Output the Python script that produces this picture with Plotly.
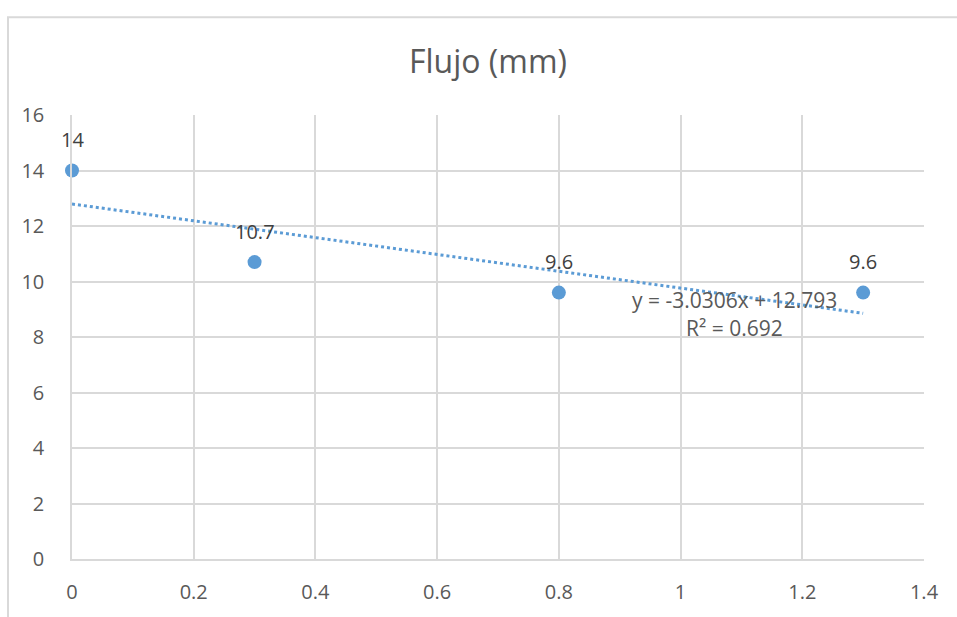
import numpy as np
import plotly.graph_objects as go

# Flow measurements
x_vals = [0, 0.3, 0.8, 1.3]
y_vals = [14, 10.7, 9.6, 9.6]
point_labels = ["14", "10.7", "9.6", "9.6"]

x_ticks = [0, 0.2, 0.4, 0.6, 0.8, 1, 1.2, 1.4]
y_ticks = [0, 2, 4, 6, 8, 10, 12, 14, 16]

BLUE = "#5B9BD5"
GRID = "#d9d9d9"
FONT = "Open Sans"

W, H = 957, 617
ML, MR, MT, MB = 72, 33, 115, 52

# Linear trend (least squares)
slope, intercept = np.polyfit(x_vals, y_vals, 1)
pred = np.polyval([slope, intercept], x_vals)
ss_res = np.sum((np.array(y_vals) - pred) ** 2)
ss_tot = np.sum((np.array(y_vals) - np.mean(y_vals)) ** 2)
r2 = 1 - ss_res / ss_tot
trend_x = [min(x_vals), max(x_vals)]
trend_y = [slope * v + intercept for v in trend_x]

fig = go.Figure()
fig.add_trace(go.Scatter(
    x=trend_x, y=trend_y, mode="lines",
    line=dict(color=BLUE, width=3, dash="dot"),
    hoverinfo="skip", showlegend=False,
))
fig.add_trace(go.Scatter(
    x=x_vals, y=y_vals, mode="markers",
    marker=dict(color=BLUE, size=14),
    showlegend=False, cliponaxis=False,
))

annotations = []
for xv, yv, lab in zip(x_vals, y_vals, point_labels):
    annotations.append(dict(
        x=xv, y=yv, text=lab, showarrow=False, yshift=31,
        xanchor="center", yanchor="middle",
        font=dict(family=FONT, size=20, color="#404040"),
    ))

sign = "-" if intercept < 0 else "+"
eq_text = f"y = {slope:.4f}x {sign} {abs(intercept):.3f}"
r2_text = f"R² = {r2:.3f}"
annotations.append(dict(
    x=1.0894, y=9.32, text=eq_text, showarrow=False,
    xanchor="center", yanchor="middle",
    font=dict(family=FONT, size=21, color="#595959"),
))
annotations.append(dict(
    x=1.0894, y=8.32, text=r2_text, showarrow=False,
    xanchor="center", yanchor="middle",
    font=dict(family=FONT, size=21, color="#595959"),
))

pw = W - ML - MR
ph = H - MT - MB

fig.update_layout(
    width=W, height=H,
    margin=dict(l=ML, r=MR, t=MT, b=MB),
    paper_bgcolor="white", plot_bgcolor="white",
    title=dict(
        text="Flujo (mm)", x=488 / W, xanchor="center",
        y=1 - 62 / H, yanchor="middle",
        font=dict(family=FONT, size=32, color="#595959"),
    ),
    xaxis=dict(
        range=[0, 1.4], tickvals=x_ticks, ticktext=[f"{v:g}" for v in x_ticks],
        showgrid=True, gridcolor=GRID, gridwidth=1.5,
        zeroline=False, showline=True, linecolor=GRID, linewidth=1.5,
        ticks="", ticklabelstandoff=14,
        tickfont=dict(family=FONT, size=20, color="#595959"),
    ),
    yaxis=dict(
        range=[0, 16], tickvals=y_ticks,
        showgrid=True, gridcolor=GRID, gridwidth=1.5,
        zeroline=False, showline=True, linecolor=GRID, linewidth=1.5,
        ticks="", ticklabelstandoff=22,
        tickfont=dict(family=FONT, size=20, color="#595959"),
    ),
    annotations=annotations,
    shapes=[dict(
        type="rect", xref="paper", yref="paper",
        x0=(8 - ML) / pw, x1=(W + 40 - ML) / pw,
        y0=-(H + 40 - MT - ph) / ph, y1=1 + (MT - 16) / ph,
        line=dict(color=GRID, width=2), fillcolor="rgba(0,0,0,0)",
        layer="below",
    )],
)

fig.write_html("out.html")
